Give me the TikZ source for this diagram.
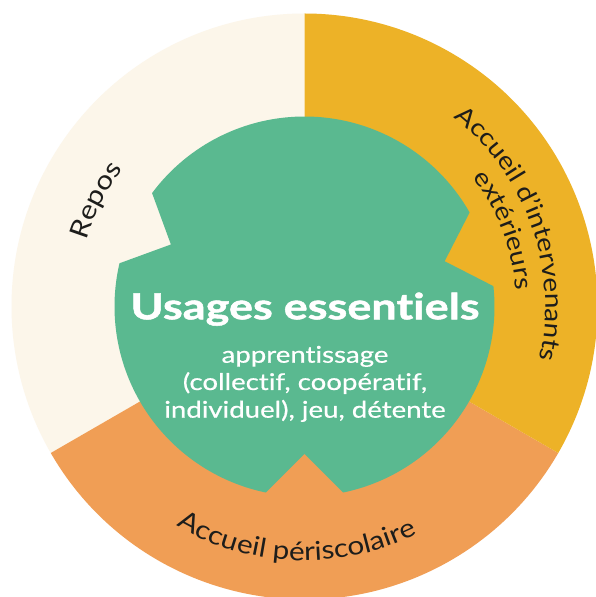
\documentclass[tikz,border=0pt]{standalone}
\usepackage{fontspec}
\setmainfont{Lato}
\newfontfamily\labfam{Lato}[FakeStretch=1.14, Ligatures=NoCommon]
\newfontfamily\subfam{Lato}[FakeStretch=1.2, Ligatures=NoCommon, FakeBold=0.6]
\newfontfamily\titfam{Lato}[FakeStretch=1.25, Ligatures=NoCommon, BoldFeatures={FakeBold=1.4}]
\usetikzlibrary{decorations.text}
\definecolor{cream}{HTML}{FCF6EA}
\definecolor{gold}{HTML}{EDB227}
\definecolor{orangec}{HTML}{F09E55}
\definecolor{greenc}{HTML}{5AB990}
\definecolor{ink}{HTML}{1D1D1B}
\newcommand\labfont{\labfam\fontsize{26}{30}\selectfont}
\newcommand\labfontsm{\labfam\fontsize{24.5}{28}\selectfont}
\tikzset{
  curvlabel/.style={decorate, decoration={text along path, text align=center, text color=ink, text={|\labfont|#1}}},
  curvlabelsm/.style={decorate, decoration={text along path, text align=center, text color=ink, text={|\labfontsm|#1}}},
  subline/.style={anchor=base, text=white, font=\subfam\fontsize{23}{27.5}\selectfont, inner sep=0pt},
}
\begin{document}
\begin{tikzpicture}[x=1pt, y=1pt]
\useasboundingbox (0,0) rectangle (596,597);
\fill[white] (0,0) rectangle (596,597);
\clip (0,0) rectangle (596,597);
\coordinate (O) at (304.5,290.5);
\begin{scope}[shift={(O)}]
  \fill[cream] (0,0) -- (90:293) arc[start angle=90, end angle=210, radius=293] -- cycle;
  \fill[orangec] (0,0) -- (210:293) arc[start angle=210, end angle=330, radius=293] -- cycle;
  \fill[gold] (0,0) -- (330:293) arc[start angle=330, end angle=450, radius=293] -- cycle;
  \fill[greenc] (29.65:190) arc[start angle=29.65, end angle=143.35, radius=190]
     -- (155.1:147.3) -- (166.85:190) arc[start angle=166.85, end angle=258.25, radius=190]
     -- (270:147.3) -- (281.75:190) arc[start angle=281.75, end angle=366.15, radius=190]
     -- (17.9:147.3) -- cycle;
  \path[curvlabel={Accueil périscolaire}] (218:254) arc[start angle=218, end angle=318, radius=254];
  \path[curvlabelsm={Accueil d’intervenants}] (69.5:241) arc[start angle=69.5, end angle=-30.5, radius=241];
  \path[curvlabelsm={extérieurs}] (66:212) arc[start angle=66, end angle=-24, radius=212];
  \path[curvlabel={Repos}] (193:228) arc[start angle=193, end angle=113, radius=228];
\end{scope}
\node[anchor=base, text=white, font=\titfam\bfseries\fontsize{36}{40}\selectfont, inner sep=0pt] (title) at (305,277.7) {Usages essentiels};
\node[subline] (sub1) at (305,234.3) {apprentissage};
\node[subline] (sub2) at (305,207) {(collectif, coopératif,};
\node[subline] (sub3) at (305,179.3) {individuel), jeu, détente};
\end{tikzpicture}
\end{document}
